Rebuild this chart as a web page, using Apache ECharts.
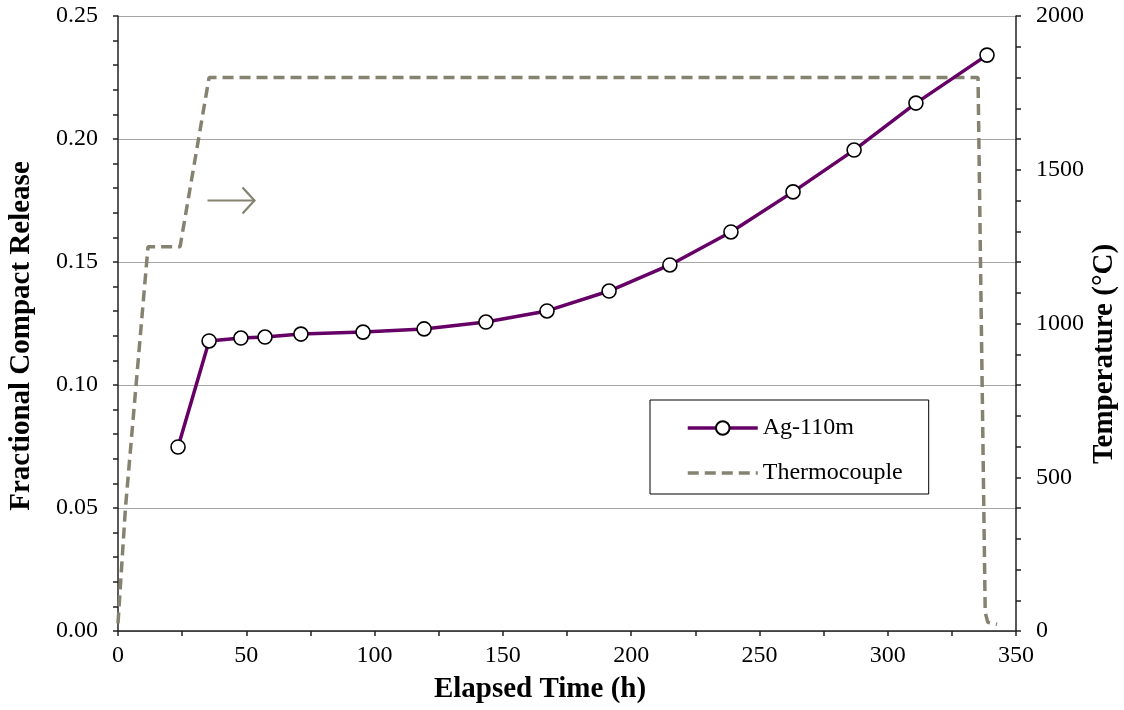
<!DOCTYPE html>
<html><head><meta charset="utf-8">
<script src="https://cdn.jsdelivr.net/npm/echarts@6/dist/echarts.min.js"></script>
<style>html,body{margin:0;padding:0;background:#fff}#c{width:1124px;height:710px}</style>
</head><body><div id="c"></div>
<script>
const agTime = [23.4, 35.5, 47.9, 57.3, 71.3, 95.5, 119.3, 143.4, 167.2, 191.4, 215.1, 238.9, 263.1, 286.9, 311.0, 338.7];
const agRelease = [0.0748, 0.1179, 0.1191, 0.1195, 0.1207, 0.1215, 0.1228, 0.1256, 0.1301, 0.1382, 0.1488, 0.1622, 0.1785, 0.1955, 0.2146, 0.2341];
const tcTime = [0, 2.9, 11.7, 24.2, 35.5, 335.2, 338.0, 339.0, 342.6];
const tcTemp = [25, 400, 1250, 1250, 1800, 1800, 60, 28, 22];
const seriesNames = ['Ag-110m', 'Thermocouple'];
const axisTitles = {x: 'Elapsed Time (h)', yLeft: 'Fractional Compact Release', yRight: 'Temperature (°C)'};

const FONT = 'Liberation Serif';
const axisCol = '#222';
const tickStyle = {color: axisCol, width: 1.5};
const labelBase = {fontFamily: FONT, fontSize: 24, color: '#000'};
const titleStyle = {fontFamily: FONT, fontWeight: 'bold', fontSize: 29, fill: '#000'};
const tcLine = {color: '#858270', width: 3.5, type: [11, 6]};
const agLine = {color: '#660066', width: 3.5};
const chart = echarts.init(document.getElementById('c'));
chart.setOption({
  animation: false,
  textStyle: {fontFamily: FONT},
  grid: {left: 118, right: 108, top: 16, bottom: 79},
  xAxis: {
    type: 'value', min: 0, max: 350, interval: 50,
    axisLine: {show: true, onZero: false, lineStyle: tickStyle},
    axisTick: {show: true, inside: false, length: 5, lineStyle: tickStyle},
    minorTick: {show: true, splitNumber: 2, length: 5, lineStyle: tickStyle},
    axisLabel: Object.assign({margin: 13}, labelBase),
    splitLine: {show: false}
  },
  yAxis: [{
    type: 'value', min: 0, max: 0.25, interval: 0.05,
    axisLine: {show: true, onZero: false, lineStyle: tickStyle},
    axisTick: {show: true, inside: false, length: 5, lineStyle: tickStyle},
    minorTick: {show: true, splitNumber: 5, length: 5, lineStyle: tickStyle},
    axisLabel: Object.assign({margin: 20, formatter: v => v.toFixed(2)}, labelBase),
    splitLine: {show: true, lineStyle: {color: '#a6a6a6', width: 1}}
  }, {
    type: 'value', min: 0, max: 2000, interval: 500, position: 'right',
    axisLine: {show: true, onZero: false, lineStyle: tickStyle},
    axisTick: {show: true, inside: false, length: 5, lineStyle: tickStyle},
    minorTick: {show: true, splitNumber: 5, length: 5, lineStyle: tickStyle},
    axisLabel: Object.assign({margin: 20, formatter: v => String(v)}, labelBase),
    splitLine: {show: false}
  }],
  legend: {
    show: true, orient: 'vertical', left: 650, top: 400,
    padding: [16, 26, 9, 36], itemGap: 21, itemWidth: 70, itemHeight: 17,
    borderColor: '#000', borderWidth: 1, backgroundColor: '#fff',
    textStyle: {fontFamily: FONT, fontSize: 24, color: '#000'},
    data: [
      {name: seriesNames[0], lineStyle: {width: 3.5}},
      {name: seriesNames[1], itemStyle: {opacity: 0}, lineStyle: {width: 3.5, type: [11, 6]}}
    ]
  },
  graphic: [{
    type: 'group', left: 205, top: 185,
    children: [
      {type: 'line', shape: {x1: 0, y1: 13, x2: 47, y2: 13}, style: {stroke: '#858270', lineWidth: 2.2}},
      {type: 'polyline', shape: {points: [[35, 0], [47, 13], [35, 26]]}, style: {stroke: '#858270', lineWidth: 2.2, fill: null}}
    ]
  }, {
    type: 'text', x: 540, y: 690,
    style: Object.assign({text: axisTitles.x, align: 'center', verticalAlign: 'middle'}, titleStyle)
  }, {
    type: 'text', x: 22, y: 336, rotation: Math.PI / 2,
    style: Object.assign({text: axisTitles.yLeft, align: 'center', verticalAlign: 'middle'}, titleStyle)
  }, {
    type: 'text', x: 1105, y: 354, rotation: Math.PI / 2,
    style: Object.assign({text: axisTitles.yRight, align: 'center', verticalAlign: 'middle'}, titleStyle)
  }],
  series: [{
    name: seriesNames[1], type: 'line', yAxisIndex: 1,
    data: tcTime.map((t, i) => [t, tcTemp[i]]),
    showSymbol: false, symbol: 'none',
    lineStyle: tcLine,
    itemStyle: {color: '#858270'},
    z: 2
  }, {
    name: seriesNames[0], type: 'line', yAxisIndex: 0,
    data: agTime.map((t, i) => [t, agRelease[i]]),
    symbol: 'circle', symbolSize: 14,
    lineStyle: agLine,
    itemStyle: {color: '#fff', borderColor: '#000', borderWidth: 1.6},
    z: 3
  }]
});
</script></body></html>
